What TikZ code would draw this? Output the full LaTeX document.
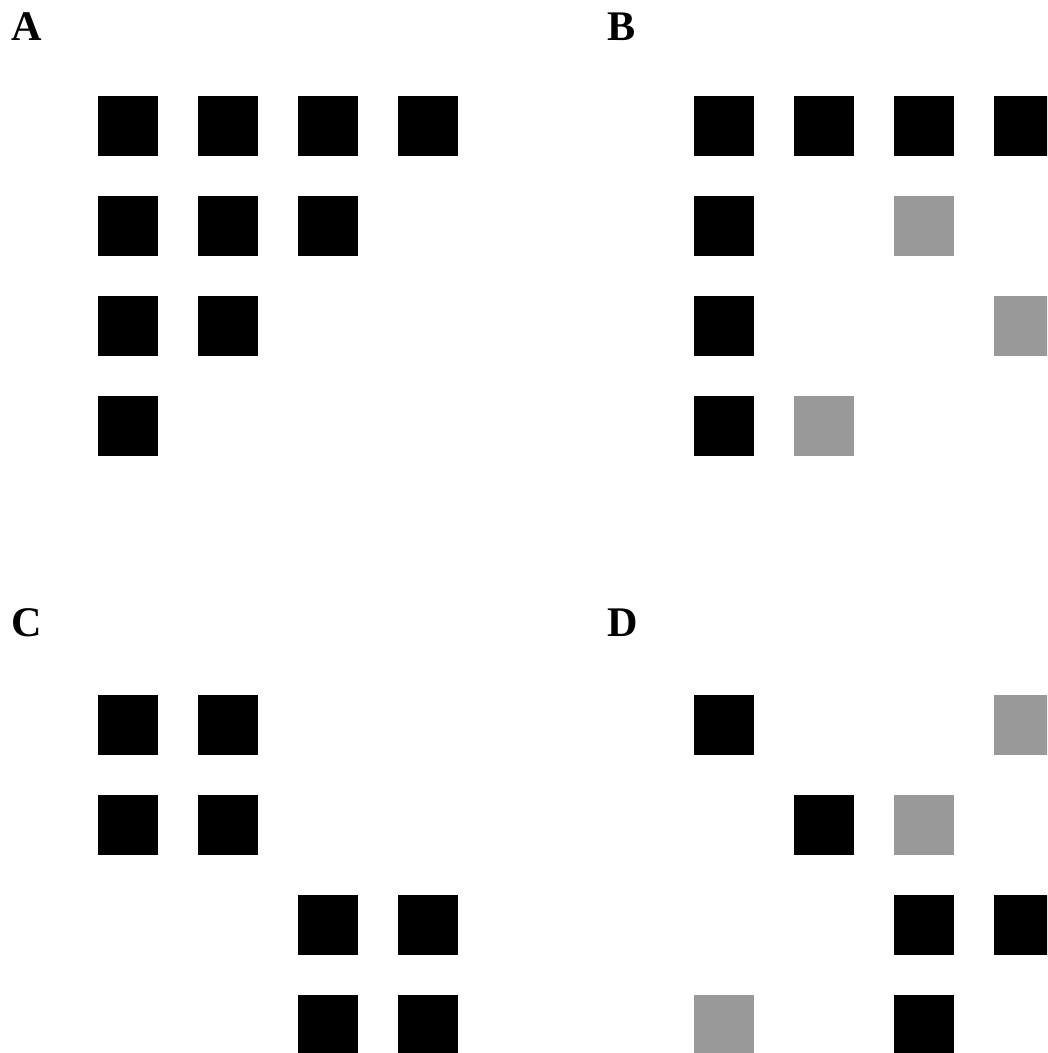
\documentclass[tikz,border=0pt]{standalone}
\usepackage{fontspec}
\setmainfont{Liberation Serif}
\usepackage{tikz}
\definecolor{CellBlack}{HTML}{000000}
\definecolor{CellGrey}{HTML}{999999}
\tikzset{
  cellon/.style={fill=CellBlack},
  cellhalf/.style={fill=CellGrey},
  panellabel/.style={anchor=base west, inner sep=0pt, font=\fontsize{24}{28}\selectfont\bfseries}
}
\newcommand{\cell}[4]{\fill[#4] ({#1+100*#3},{#2}) rectangle ++(60,60);}

\begin{document}
\begin{tikzpicture}[x=0.02cm, y=-0.02cm]
\useasboundingbox (0,0) rectangle (1047,1053);
\clip (0,0) rectangle (1047,1053);
\node[panellabel] (labA) at (11,41) {A};
\node[panellabel] (labB) at (607,41) {B};
\node[panellabel] (labC) at (11,636) {C};
\node[panellabel] (labD) at (607,636) {D};
\foreach \c in {0,1,2,3} {\cell{98}{96}{\c}{cellon}}
\foreach \c in {0,1,2} {\cell{98}{196}{\c}{cellon}}
\foreach \c in {0,1} {\cell{98}{296}{\c}{cellon}}
\cell{98}{396}{0}{cellon}
\foreach \c in {0,1,2,3} {\cell{694}{96}{\c}{cellon}}
\cell{694}{196}{0}{cellon}
\cell{694}{196}{2}{cellhalf}
\cell{694}{296}{0}{cellon}
\cell{694}{296}{3}{cellhalf}
\cell{694}{396}{0}{cellon}
\cell{694}{396}{1}{cellhalf}
\foreach \c in {0,1} {\cell{98}{695}{\c}{cellon} \cell{98}{795}{\c}{cellon}}
\foreach \c in {2,3} {\cell{98}{895}{\c}{cellon} \cell{98}{995}{\c}{cellon}}
\cell{694}{695}{0}{cellon}
\cell{694}{695}{3}{cellhalf}
\cell{694}{795}{1}{cellon}
\cell{694}{795}{2}{cellhalf}
\cell{694}{895}{2}{cellon}
\cell{694}{895}{3}{cellon}
\cell{694}{995}{0}{cellhalf}
\cell{694}{995}{2}{cellon}
\end{tikzpicture}
\end{document}
